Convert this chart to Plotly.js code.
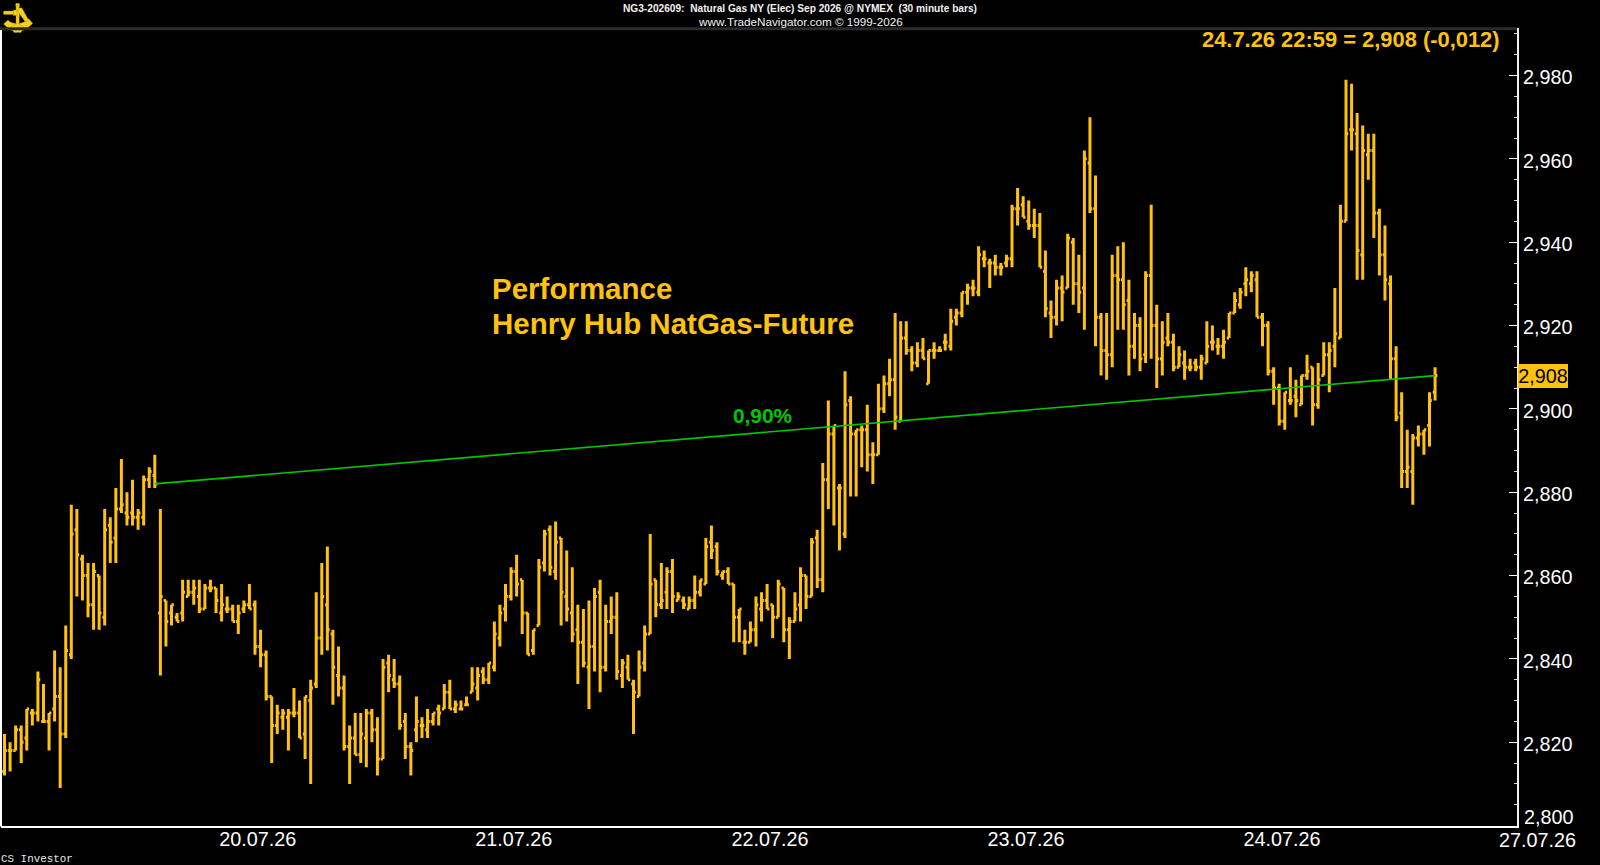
<!DOCTYPE html>
<html>
<head>
<meta charset="utf-8">
<script src="https://cdn.plot.ly/plotly-3.0.1.min.js"></script>
<style>html,body{margin:0;padding:0;background:#000;overflow:hidden}#chart{width:1600px;height:865px}</style>
</head>
<body>
<div id="chart"></div>
<script>
const priceOpen = [
2.813,2.818,2.818,2.823,2.821,2.827,2.827,2.825,2.825,2.828,
2.831,2.822,2.841,2.871,2.864,2.860,2.853,2.860,2.850,2.872,
2.869,2.876,2.875,2.875,2.874,2.874,2.883,2.884,2.851,2.854,
2.851,2.850,2.851,2.855,2.856,2.855,2.852,2.857,2.857,2.851,
2.852,2.852,2.849,2.852,2.853,2.853,2.843,2.841,2.831,2.824,
2.826,2.826,2.827,2.827,2.822,2.830,2.834,2.845,2.853,2.846,
2.836,2.833,2.819,2.821,2.817,2.821,2.827,2.823,2.816,2.839,
2.835,2.834,2.825,2.819,2.823,2.824,2.823,2.825,2.828,2.828,
2.832,2.828,2.828,2.829,2.832,2.833,2.837,2.835,2.838,2.845,
2.852,2.855,2.861,2.859,2.851,2.842,2.848,2.863,2.871,2.861,
2.869,2.855,2.851,2.847,2.844,2.838,2.843,2.856,2.838,2.849,
2.850,2.836,2.838,2.834,2.831,2.839,2.846,2.859,2.853,2.856,
2.861,2.854,2.854,2.852,2.854,2.856,2.858,2.868,2.867,2.860,
2.861,2.858,2.850,2.844,2.844,2.847,2.852,2.854,2.853,2.850,
2.857,2.847,2.849,2.853,2.860,2.855,2.869,2.859,2.883,2.894,
2.881,2.870,2.902,2.894,2.895,2.895,2.889,2.889,2.900,2.906,
2.907,2.897,2.917,2.914,2.911,2.914,2.906,2.914,2.914,2.916,
2.915,2.922,2.923,2.928,2.929,2.928,2.936,2.935,2.935,2.934,
2.935,2.936,2.948,2.949,2.945,2.944,2.944,2.933,2.923,2.922,
2.929,2.929,2.940,2.930,2.929,2.959,2.948,2.922,2.914,2.913,
2.932,2.931,2.926,2.915,2.920,2.913,2.932,2.920,2.912,2.917,
2.916,2.910,2.911,2.910,2.911,2.910,2.911,2.916,2.915,2.915,
2.917,2.923,2.925,2.930,2.930,2.931,2.922,2.920,2.909,2.905,
2.897,2.902,2.903,2.901,2.908,2.910,2.901,2.908,2.913,2.915,
2.917,2.945,2.967,2.966,2.937,2.961,2.962,2.947,2.937,2.930,
2.912,2.899,2.885,2.885,2.893,2.894,2.896,2.904];
const priceHigh = [
2.822,2.820,2.824,2.824,2.828,2.828,2.837,2.834,2.827,2.842,
2.838,2.848,2.877,2.876,2.865,2.863,2.863,2.860,2.876,2.874,
2.881,2.888,2.880,2.883,2.876,2.884,2.886,2.889,2.876,2.854,
2.853,2.851,2.859,2.859,2.859,2.859,2.858,2.859,2.857,2.858,
2.855,2.853,2.853,2.854,2.858,2.854,2.847,2.842,2.831,2.829,
2.828,2.828,2.833,2.830,2.831,2.835,2.856,2.863,2.867,2.847,
2.843,2.836,2.824,2.827,2.827,2.828,2.828,2.826,2.840,2.841,
2.840,2.836,2.827,2.820,2.831,2.826,2.828,2.827,2.829,2.834,
2.835,2.830,2.830,2.831,2.838,2.838,2.838,2.839,2.849,2.853,
2.858,2.862,2.865,2.859,2.851,2.847,2.864,2.871,2.872,2.873,
2.869,2.866,2.862,2.853,2.852,2.854,2.857,2.859,2.853,2.855,
2.856,2.840,2.841,2.835,2.842,2.848,2.870,2.859,2.863,2.862,
2.864,2.856,2.855,2.855,2.860,2.859,2.869,2.872,2.868,2.861,
2.862,2.858,2.852,2.847,2.849,2.855,2.856,2.858,2.853,2.859,
2.857,2.850,2.856,2.862,2.860,2.869,2.871,2.887,2.902,2.896,
2.882,2.909,2.903,2.895,2.896,2.901,2.892,2.906,2.908,2.912,
2.923,2.921,2.921,2.915,2.916,2.917,2.914,2.916,2.915,2.918,
2.924,2.924,2.928,2.930,2.931,2.939,2.938,2.936,2.937,2.935,
2.937,2.949,2.953,2.951,2.950,2.948,2.947,2.938,2.926,2.931,
2.932,2.942,2.941,2.937,2.962,2.970,2.956,2.923,2.923,2.937,
2.939,2.940,2.931,2.923,2.922,2.933,2.949,2.925,2.921,2.923,
2.918,2.915,2.914,2.912,2.912,2.913,2.921,2.920,2.917,2.919,
2.923,2.928,2.929,2.934,2.933,2.933,2.923,2.921,2.910,2.906,
2.904,2.910,2.907,2.908,2.913,2.910,2.911,2.916,2.916,2.929,
2.949,2.979,2.978,2.971,2.968,2.966,2.966,2.948,2.944,2.932,
2.915,2.904,2.895,2.894,2.896,2.895,2.904,2.910];
const priceLow = [
2.812,2.813,2.818,2.815,2.818,2.824,2.825,2.825,2.818,2.825,
2.809,2.821,2.840,2.855,2.854,2.850,2.847,2.847,2.848,2.863,
2.863,2.875,2.872,2.872,2.871,2.872,2.881,2.881,2.836,2.843,
2.848,2.849,2.849,2.855,2.853,2.851,2.852,2.856,2.851,2.849,
2.851,2.849,2.846,2.851,2.852,2.841,2.838,2.830,2.815,2.822,
2.823,2.818,2.826,2.821,2.816,2.810,2.833,2.841,2.842,2.829,
2.831,2.818,2.810,2.817,2.815,2.814,2.820,2.812,2.816,2.832,
2.833,2.823,2.816,2.812,2.820,2.821,2.821,2.824,2.824,2.828,
2.828,2.827,2.828,2.829,2.832,2.830,2.834,2.834,2.837,2.843,
2.849,2.854,2.855,2.846,2.841,2.841,2.848,2.861,2.860,2.859,
2.848,2.849,2.844,2.834,2.838,2.828,2.837,2.832,2.837,2.846,
2.835,2.833,2.835,2.822,2.831,2.837,2.846,2.850,2.852,2.852,
2.851,2.854,2.852,2.852,2.852,2.855,2.858,2.864,2.860,2.859,
2.858,2.844,2.844,2.841,2.844,2.843,2.849,2.852,2.845,2.850,
2.844,2.840,2.849,2.849,2.852,2.855,2.857,2.856,2.876,2.872,
2.866,2.869,2.879,2.879,2.886,2.885,2.882,2.889,2.899,2.903,
2.895,2.897,2.913,2.909,2.910,2.912,2.906,2.912,2.914,2.914,
2.914,2.920,2.922,2.925,2.927,2.927,2.934,2.929,2.932,2.932,
2.934,2.934,2.944,2.946,2.943,2.941,2.934,2.922,2.917,2.920,
2.921,2.929,2.925,2.923,2.919,2.947,2.915,2.908,2.907,2.910,
2.919,2.919,2.908,2.912,2.909,2.911,2.912,2.905,2.908,2.915,
2.909,2.910,2.907,2.909,2.909,2.907,2.911,2.914,2.913,2.912,
2.917,2.923,2.924,2.927,2.928,2.922,2.915,2.908,2.901,2.896,
2.895,2.901,2.898,2.901,2.907,2.896,2.900,2.908,2.904,2.910,
2.917,2.945,2.962,2.931,2.931,2.955,2.941,2.932,2.926,2.907,
2.897,2.881,2.881,2.877,2.891,2.889,2.891,2.902];
const priceClose = [
2.818,2.818,2.823,2.820,2.828,2.827,2.835,2.825,2.827,2.831,
2.822,2.842,2.870,2.865,2.860,2.853,2.861,2.851,2.871,2.868,
2.876,2.877,2.874,2.874,2.875,2.883,2.885,2.882,2.855,2.849,
2.853,2.849,2.856,2.856,2.857,2.852,2.857,2.857,2.854,2.853,
2.852,2.849,2.851,2.853,2.852,2.843,2.841,2.831,2.824,2.827,
2.827,2.827,2.827,2.821,2.831,2.833,2.845,2.855,2.847,2.838,
2.833,2.819,2.821,2.817,2.822,2.827,2.823,2.816,2.838,2.836,
2.834,2.824,2.819,2.818,2.825,2.824,2.825,2.827,2.827,2.832,
2.828,2.829,2.828,2.829,2.834,2.836,2.835,2.839,2.846,2.851,
2.855,2.861,2.858,2.851,2.841,2.847,2.862,2.870,2.862,2.868,
2.856,2.852,2.846,2.844,2.839,2.843,2.855,2.838,2.849,2.850,
2.837,2.839,2.835,2.832,2.838,2.846,2.858,2.853,2.854,2.861,
2.855,2.855,2.853,2.854,2.856,2.859,2.867,2.866,2.861,2.861,
2.858,2.850,2.852,2.844,2.847,2.853,2.854,2.852,2.850,2.858,
2.847,2.849,2.852,2.860,2.855,2.868,2.859,2.883,2.894,2.896,
2.881,2.901,2.894,2.895,2.895,2.889,2.889,2.900,2.906,2.907,
2.898,2.917,2.914,2.911,2.914,2.912,2.914,2.914,2.914,2.916,
2.921,2.923,2.928,2.929,2.929,2.937,2.936,2.935,2.934,2.934,
2.936,2.948,2.948,2.946,2.944,2.944,2.934,2.924,2.922,2.929,
2.928,2.941,2.930,2.928,2.960,2.948,2.922,2.914,2.913,2.932,
2.931,2.925,2.915,2.920,2.912,2.932,2.920,2.912,2.916,2.916,
2.910,2.913,2.910,2.910,2.910,2.912,2.915,2.916,2.915,2.916,
2.923,2.926,2.928,2.931,2.932,2.922,2.920,2.909,2.905,2.897,
2.904,2.902,2.902,2.908,2.909,2.901,2.907,2.913,2.914,2.918,
2.945,2.966,2.967,2.938,2.962,2.962,2.947,2.937,2.931,2.912,
2.898,2.885,2.886,2.893,2.894,2.895,2.902,2.908];

const barIndex = priceOpen.map((_, i) => i);
const dateTickBars = [45.5, 91.5, 137.5, 183.5, 229.5];
const dateTickLabels = ['20.07.26', '21.07.26', '22.07.26', '23.07.26', '24.07.26'];
const lastDateLabel = '27.07.26';
const priceTicks = [2.82, 2.84, 2.86, 2.88, 2.90, 2.92, 2.94, 2.96, 2.98];
const priceTickLabels = ['2,820', '2,840', '2,860', '2,880', '2,900', '2,920', '2,940', '2,960', '2,980'];
const bottomPriceLabel = '2,800';
const lastPriceLabel = '2,908';
const lastPrice = 2.908;
const perfLineBars = [27, 257];
const perfLinePrices = [2.882, 2.908];
const perfLabel = '0,90%';
const headerLine1 = 'NG3-202609:\u00A0 Natural Gas NY (Elec) Sep 2026 @ NYMEX\u00A0 (30 minute bars)';
const headerLine2 = 'www.TradeNavigator.com \u00A9 1999-2026';
const lastQuote = '24.7.26 22:59 = 2,908 (-0,012)';
const chartNoteLine1 = 'Performance';
const chartNoteLine2 = 'Henry Hub NatGas-Future';
const footer = 'CS Investor';

const GOLD = '#FFC20E';
const GREEN = '#00C800';
const FONT = '"Liberation Sans", Arial, sans-serif';
const L = 1, R = 1517, T = 28, B = 826.5;
const px = x => (x - L) / (R - L);
const py = y => (B - y) / (B - T);

const logoSvg = `<svg xmlns="http://www.w3.org/2000/svg" width="90" height="90" viewBox="0 0 30 30">
<g fill="#F5CE1E" stroke="#A88400" stroke-width="0.35">
<rect x="12.6" y="0.3" width="4" height="3.2" rx="1"/><rect x="13" y="3" width="3.2" height="21"/>
<rect x="0.5" y="8" width="11" height="3.6" rx="0.8"/><rect x="10.5" y="7" width="3.5" height="5.5"/>
<path d="M0.5 21 L5 17 C8 21.5 20 22.5 25.5 15.5 L29.8 20.5 L25 24.5 C20 29.5 9 29.5 5 25 Z"/>
<path d="M15 5 L19 5 L25.5 17 L22.5 19 L15 9 Z"/>
<path d="M8 24 L14.5 20 L21 24 L18 29.5 H11 Z"/>
</g></svg>`;

const data = [
  {
    type: 'ohlc', x: barIndex,
    open: priceOpen, high: priceHigh, low: priceLow, close: priceClose,
    tickwidth: 0.42,
    line: {width: 3},
    increasing: {line: {color: GOLD, width: 3}},
    decreasing: {line: {color: GOLD, width: 3}},
    hoverinfo: 'skip', showlegend: false
  },
  {
    type: 'scatter', mode: 'lines', x: perfLineBars, y: perfLinePrices,
    line: {color: GREEN, width: 1.7}, hoverinfo: 'skip', showlegend: false
  }
];

function note(text, x, y, size, color, bold, anchor, family) {
  return {
    text: bold ? '<b>' + text + '</b>' : text,
    xref: 'paper', yref: 'paper', x: px(x), y: py(y),
    xanchor: anchor || 'left', yanchor: 'middle', showarrow: false,
    borderpad: 0, font: {family: family || FONT, size: size, color: color}
  };
}

const layout = {
  width: 1600, height: 865, autosize: false,
  margin: {l: L, r: 1600 - R, t: T, b: 865 - B, pad: 0},
  paper_bgcolor: '#000', plot_bgcolor: '#000',
  separators: ',.', showlegend: false, dragmode: false,
  font: {family: FONT, color: '#fff'},
  title: {
    text: '<b>' + headerLine1 + '</b>', xref: 'container', yref: 'container',
    x: 800 / 1600, y: 1 - 8.5 / 865, xanchor: 'center', yanchor: 'middle',
    font: {family: FONT, size: 10.17, color: '#f2f2f2'}
  },
  xaxis: {
    range: [-0.63, 271.72], showgrid: false, zeroline: false,
    showline: true, linecolor: '#fff', linewidth: 2,
    tickmode: 'array', tickvals: dateTickBars, ticktext: dateTickLabels,
    ticks: '', ticklabelstandoff: -6, tickfont: {family: FONT, size: 19.8, color: '#fff'},
    rangeslider: {visible: false}, fixedrange: true
  },
  yaxis: {
    range: [2.7999, 2.9914], side: 'right', showgrid: false, zeroline: false,
    showline: true, linecolor: '#f0f0f0', linewidth: 2,
    tickmode: 'array', tickvals: priceTicks, ticktext: priceTickLabels,
    ticks: 'inside', ticklen: 8, tickwidth: 1, tickcolor: '#fff', ticklabelshift: 2,
    tickfont: {family: FONT, size: 19.8, color: '#fff'},
    minor: {tickmode: 'linear', tick0: 2.8, dtick: 0.005, ticks: 'inside', ticklen: 3, tickwidth: 1, tickcolor: '#ddd', showgrid: false},
    fixedrange: true
  },
  shapes: [
    {type: 'line', xref: 'paper', yref: 'paper', x0: px(0), x1: px(R), y0: py(28.7), y1: py(28.7), line: {color: '#2b2b2b', width: 3}},
    {type: 'line', xref: 'paper', yref: 'paper', x0: px(1), x1: px(1), y0: py(30), y1: py(827), line: {color: '#fff', width: 2}}
  ],
  images: [{
    source: 'data:image/svg+xml;base64,' + btoa(logoSvg),
    xref: 'paper', yref: 'paper', x: px(3), y: py(3), sizex: 30 / (R - L), sizey: 30 / (B - T),
    xanchor: 'left', yanchor: 'top', sizing: 'stretch', layer: 'above'
  }],
  annotations: [
    note(headerLine2, 800, 21.5, 11.7, '#f2f2f2', false, 'center'),
    note(lastQuote, 1201, 40, 21.9, GOLD, true),
    note(chartNoteLine1, 491, 289, 29.5, GOLD, true),
    note(chartNoteLine2, 491, 323.5, 29.5, GOLD, true),
    note(perfLabel, 732, 415.5, 20.8, GREEN, true),
    note(bottomPriceLabel, 1523, 817, 19.8, '#fff'),
    note(lastDateLabel, 1537.5, 840.5, 19.8, '#fff', false, 'center'),
    note(footer, 0, 860, 10.9, '#e8e8e8', false, 'left', '"Liberation Mono", monospace'),
    {
      text: lastPriceLabel, xref: 'paper', yref: 'y', x: px(1518.3), y: lastPrice,
      xanchor: 'left', yanchor: 'middle', showarrow: false, width: 50, height: 23.5, align: 'center',
      bgcolor: GOLD, borderpad: 0, borderwidth: 0,
      font: {family: FONT, size: 19.8, color: '#000'}
    }
  ]
};

Plotly.newPlot('chart', data, layout, {displayModeBar: false, staticPlot: true, responsive: false});
</script>
</body>
</html>
